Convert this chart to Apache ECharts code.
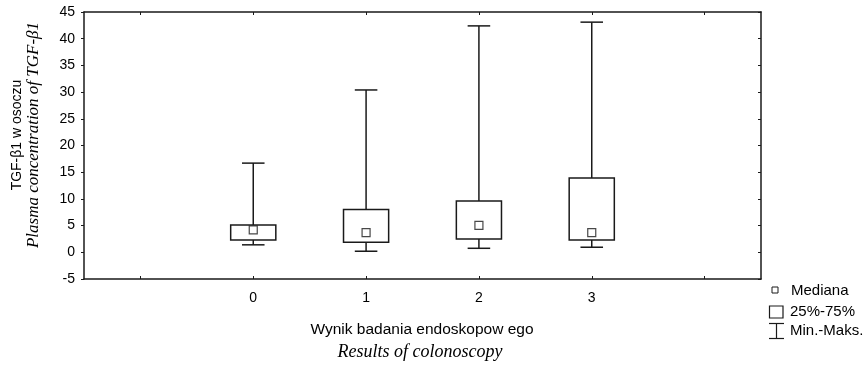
<!DOCTYPE html>
<html>
<head>
<meta charset="utf-8">
<script src="https://cdn.jsdelivr.net/npm/echarts@6/dist/echarts.min.js"></script>
<style>html,body{margin:0;padding:0;background:#fff}#c{width:865px;height:365px}</style>
</head>
<body>
<div id="c"></div>
<script>
const categories = [0, 1, 2, 3];
const minVals = [1.4, 0.2, 0.75, 0.95];
const q1Vals = [2.3, 1.9, 2.5, 2.3];
const medianVals = [4.2, 3.7, 5.05, 3.7];
const q3Vals = [5.1, 8.0, 9.6, 13.9];
const maxVals = [16.7, 30.4, 42.4, 43.1];
const yTicks = [-5, 0, 5, 10, 15, 20, 25, 30, 35, 40, 45];
const xTicks = [-1, 0, 1, 2, 3, 4];
const xLabels = [0, 1, 2, 3];

const INK = '#1a1a1a';
const sans = 'Arial, "Liberation Sans", sans-serif';
const serif = '"Times New Roman", "Liberation Serif", serif';

const boxData = categories.map((c, i) => [c, q1Vals[i], q3Vals[i]]);
const whiskerData = categories.map((c, i) => [c, minVals[i], q1Vals[i], q3Vals[i], maxVals[i]]);
const medianData = categories.map((c, i) => [c, medianVals[i]]);

const chart = echarts.init(document.getElementById('c'), null, {renderer: 'canvas'});
chart.setOption({
  animation: false,
  backgroundColor: '#fff',
  grid: {left: 84, right: 104, top: 12, bottom: 86},
  xAxis: [{
    type: 'value', min: -1.5, max: 4.5, position: 'bottom',
    splitLine: {show: false},
    axisLine: {onZero: false, lineStyle: {color: INK, width: 1.5}},
    axisTick: {show: true, inside: true, length: 3, customValues: xTicks, lineStyle: {color: INK}},
    axisLabel: {customValues: xLabels, color: '#000', fontFamily: sans, fontSize: 14, margin: 12}
  }, {
    type: 'value', min: -1.5, max: 4.5, position: 'top',
    splitLine: {show: false},
    axisLine: {onZero: false, lineStyle: {color: INK, width: 1.5}},
    axisTick: {show: true, inside: true, length: 3, customValues: xTicks, lineStyle: {color: INK}},
    axisLabel: {show: false}
  }],
  yAxis: [{
    type: 'value', min: -5, max: 45, interval: 5, position: 'left',
    splitLine: {show: false},
    axisLine: {show: true, onZero: false, lineStyle: {color: INK, width: 1.5}},
    axisTick: {show: true, length: 3, lineStyle: {color: INK}},
    axisLabel: {color: '#000', fontFamily: sans, fontSize: 14, margin: 9}
  }, {
    type: 'value', min: -5, max: 45, interval: 5, position: 'right',
    splitLine: {show: false},
    axisLine: {show: true, onZero: false, lineStyle: {color: INK, width: 1.5}},
    axisTick: {show: true, inside: true, length: 3, lineStyle: {color: INK}},
    axisLabel: {show: false}
  }],
  series: [{
    name: 'Min.-Maks.',
    type: 'custom',
    data: whiskerData,
    encode: {x: 0, y: [1, 2, 3, 4]},
    renderItem: function (params, api) {
      const x = api.value(0);
      const pMin = api.coord([x, api.value(1)]);
      const pQ1 = api.coord([x, api.value(2)]);
      const pQ3 = api.coord([x, api.value(3)]);
      const pMax = api.coord([x, api.value(4)]);
      const hw = api.size([0.2, 0])[0] / 2;
      const st = {stroke: INK, lineWidth: 1.5, fill: null};
      return {type: 'group', children: [
        {type: 'line', shape: {x1: pMax[0], y1: pMax[1], x2: pQ3[0], y2: pQ3[1]}, style: st},
        {type: 'line', shape: {x1: pQ1[0], y1: pQ1[1], x2: pMin[0], y2: pMin[1]}, style: st},
        {type: 'line', shape: {x1: pMax[0] - hw, y1: pMax[1], x2: pMax[0] + hw, y2: pMax[1]}, style: st},
        {type: 'line', shape: {x1: pMin[0] - hw, y1: pMin[1], x2: pMin[0] + hw, y2: pMin[1]}, style: st}
      ]};
    }
  }, {
    name: '25%-75%',
    type: 'custom',
    data: boxData,
    encode: {x: 0, y: [1, 2]},
    renderItem: function (params, api) {
      const x = api.value(0);
      const pQ1 = api.coord([x, api.value(1)]);
      const pQ3 = api.coord([x, api.value(2)]);
      const w = api.size([0.4, 0])[0];
      return {type: 'rect', shape: {x: pQ1[0] - w / 2, y: pQ3[1], width: w, height: pQ1[1] - pQ3[1]},
        style: {stroke: INK, lineWidth: 1.5, fill: '#fff'}};
    }
  }, {
    name: 'Mediana',
    type: 'scatter',
    data: medianData,
    symbol: 'rect',
    symbolSize: 8,
    itemStyle: {color: '#fff', borderColor: INK, borderWidth: 1.2}
  }],
  graphic: [
    {type: 'text', x: 17, y: 135, rotation: Math.PI / 2, style: {text: 'TGF-β1 w osoczu', font: '14px ' + sans, fill: '#000', align: 'center', verticalAlign: 'middle'}},
    {type: 'text', x: 34, y: 135, rotation: Math.PI / 2, style: {text: 'Plasma concentration of TGF-β1', font: 'italic 17px ' + serif, fill: '#000', align: 'center', verticalAlign: 'middle'}},
    {type: 'text', x: 422, y: 330, style: {text: 'Wynik badania endoskopow ego', font: '15.5px ' + sans, fill: '#000', align: 'center', verticalAlign: 'middle'}},
    {type: 'text', x: 420, y: 352, style: {text: 'Results of colonoscopy', font: 'italic 18px ' + serif, fill: '#000', align: 'center', verticalAlign: 'middle'}},
    {type: 'rect', shape: {x: 772, y: 287, width: 6, height: 6}, style: {fill: '#fff', stroke: INK, lineWidth: 1}},
    {type: 'text', x: 791, y: 291, style: {text: 'Mediana', font: '15px ' + sans, fill: '#000', verticalAlign: 'middle'}},
    {type: 'rect', shape: {x: 769.5, y: 306, width: 13.5, height: 12}, style: {fill: '#fff', stroke: INK, lineWidth: 1.2}},
    {type: 'text', x: 790, y: 312, style: {text: '25%-75%', font: '15px ' + sans, fill: '#000', verticalAlign: 'middle'}},
    {type: 'line', shape: {x1: 769, y1: 323.5, x2: 784, y2: 323.5}, style: {stroke: INK, lineWidth: 1.2}},
    {type: 'line', shape: {x1: 776.5, y1: 323.5, x2: 776.5, y2: 338.5}, style: {stroke: INK, lineWidth: 1.2}},
    {type: 'line', shape: {x1: 769, y1: 338.5, x2: 784, y2: 338.5}, style: {stroke: INK, lineWidth: 1.2}},
    {type: 'text', x: 790, y: 331, style: {text: 'Min.-Maks.', font: '15px ' + sans, fill: '#000', verticalAlign: 'middle'}}
  ]
});
</script>
</body>
</html>
